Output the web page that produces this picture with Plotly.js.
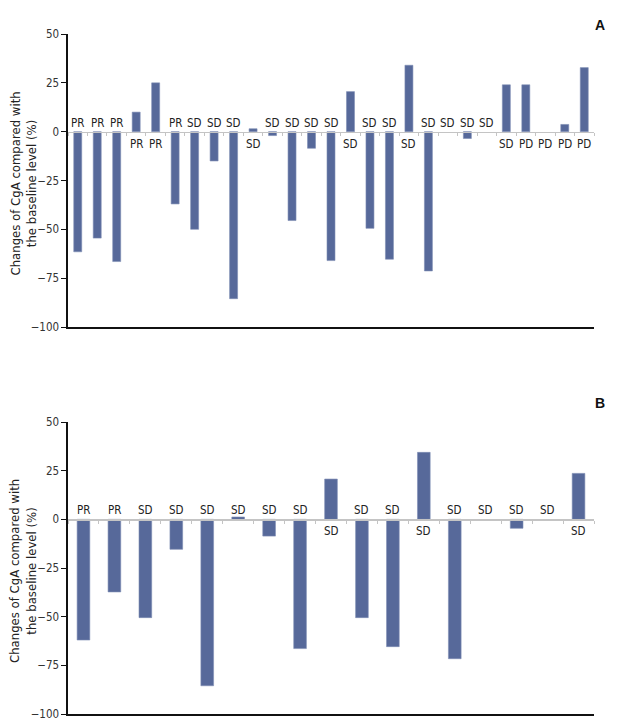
<!DOCTYPE html>
<html>
<head>
<meta charset="utf-8">
<script src="https://cdn.plot.ly/plotly-3.0.1.min.js"></script>
<style>
html,body{margin:0;padding:0;background:#fff;}
#chart{width:625px;height:728px;}
#chart text{font-stretch:condensed !important;}
</style>
</head>
<body>
<div id="chart"></div>
<script>
// Panel A data
const valuesA = [-61.5, -54.5, -66.5, 10, 25, -37, -50, -15, -85.5, 1.5, -2, -45.5, -8.5, -66, 20.5, -49.5, -65.3, 34, -71.3, 0, -3.5, 0, 24, 24, 0, 3.7, 32.8];
const responseA = ['PR','PR','PR','PR','PR','PR','SD','SD','SD','SD','SD','SD','SD','SD','SD','SD','SD','SD','SD','SD','SD','SD','SD','PD','PD','PD','PD'];
const labelSideA = ['above','above','above','below','below','above','above','above','above','below','above','above','above','above','below','above','above','below','above','above','above','above','below','below','below','below','below'];

// Panel B data
const valuesB = [-62, -37.3, -50.5, -15.4, -85.5, 1.2, -8.6, -66.4, 20.7, -50.5, -65.4, 34.4, -71.6, 0, -4.6, 0, 23.6];
const responseB = ['PR','PR','SD','SD','SD','SD','SD','SD','SD','SD','SD','SD','SD','SD','SD','SD','SD'];
const labelSideB = ['above','above','above','above','above','above','above','above','below','above','above','below','above','above','above','above','below'];

const yTicks = [-100, -75, -50, -25, 0, 25, 50];
const yTitle = 'Changes of CgA compared with<br>the baseline level (%)';

const W = 625, H = 728;
const xDom = [68/W, 594/W];
const yDomA = [1 - 327/H, 1 - 34/H];
const yDomB = [1 - 714/H, 1 - 422/H];
const yRange = [-100, 50];
const barColor = '#57699a';
const fontFam = '"DejaVu Sans Condensed", "DejaVu Sans", sans-serif';

function zeroPos(dom){ return dom[0] + (0 - yRange[0])/(yRange[1]-yRange[0])*(dom[1]-dom[0]); }

function panel(values, xa, ya, xa0){
  const xs = values.map((v,i)=>i);
  return [
    {type:'bar', x:xs, y:values, xaxis:xa, yaxis:ya, width:0.41,
     marker:{color:barColor, line:{color:'#7d8db3', width:values.map(v=>v===0?0:0.6)}}, hoverinfo:'y', showlegend:false},
    {type:'scatter', mode:'markers', x:[0], y:[0], xaxis:xa0, yaxis:ya, marker:{opacity:0}, hoverinfo:'skip', showlegend:false}
  ];
}
function labelAnns(resp, side, xa, ya){
  return resp.map((t,i)=>({text:t, x:i, y:0, xref:xa, yref:ya, showarrow:false,
    yanchor:'middle', xanchor:'center', yshift: side[i]==='above' ? 9 : -12,
    font:{family:fontFam, size:11.5, color:'#222'}}));
}
function titleAnn(dom){
  return {text:yTitle, xref:'paper', yref:'paper', x:23/W, y:(dom[0]+dom[1])/2 - 3/H, textangle:-90,
    showarrow:false, xanchor:'center', yanchor:'middle', align:'center',
    font:{family:fontFam, size:13, color:'#222'}};
}

const nA = valuesA.length, nB = valuesB.length;
const data = [].concat(
  panel(valuesA, 'x', 'y', 'x3'),
  panel(valuesB, 'x2', 'y2', 'x4')
);

function yAxis(dom, anchor){
  return {domain:dom, anchor:anchor, range:yRange, tickvals:yTicks, ticktext:yTicks.map(t=>t<0?'\u2212'+Math.abs(t):String(t)),
    showline:true, linecolor:'#111', linewidth:1.6, ticks:'outside', ticklen:5, tickcolor:'#111', tickwidth:1,
    showgrid:false, zeroline:false, tickfont:{family:fontFam, size:11.5, color:'#333'}};
}
function xAxis(n, anchor){
  return {domain:xDom, anchor:anchor, range:[-0.5, n-0.5], showline:true, linecolor:'#111', linewidth:2,
    showticklabels:false, ticks:'', showgrid:false, zeroline:false};
}
function zeroAxis(n, overlay, pos){
  const tv = []; for(let i=0;i<=n;i++) tv.push(i-0.5);
  return {domain:xDom, overlaying:overlay, anchor:'free', position:pos, range:[-0.5, n-0.5],
    showline:true, linecolor:'#c4c4c4', linewidth:1.5, ticks:'outside', ticklen:3, tickcolor:'#c4c4c4', tickwidth:1,
    tickvals:tv, showticklabels:false, showgrid:false, zeroline:false, side:'bottom'};
}

const layout = {
  width:W, height:H, margin:{l:0,r:0,t:0,b:0}, paper_bgcolor:'#fff', plot_bgcolor:'rgba(0,0,0,0)',
  bargap:0.59,
  xaxis: xAxis(nA, 'y'),
  yaxis: yAxis(yDomA, 'x'),
  xaxis2: xAxis(nB, 'y2'),
  yaxis2: yAxis(yDomB, 'x2'),
  xaxis3: zeroAxis(nA, 'x', zeroPos(yDomA)),
  xaxis4: zeroAxis(nB, 'x2', zeroPos(yDomB)),
  annotations:[
    {text:'<b>A</b>', xref:'paper', yref:'paper', x:607/W, y:1-15/H, showarrow:false, font:{family:'Liberation Sans, Arial, sans-serif', size:14, color:'#111'}},
    {text:'<b>B</b>', xref:'paper', yref:'paper', x:607/W, y:1-403/H, showarrow:false, font:{family:'Liberation Sans, Arial, sans-serif', size:14, color:'#111'}},
    titleAnn(yDomA), titleAnn(yDomB)
  ].concat(labelAnns(responseA, labelSideA, 'x', 'y'), labelAnns(responseB, labelSideB, 'x2', 'y2'))
};

Plotly.newPlot('chart', data, layout, {displayModeBar:false, staticPlot:true});
</script>
</body>
</html>
